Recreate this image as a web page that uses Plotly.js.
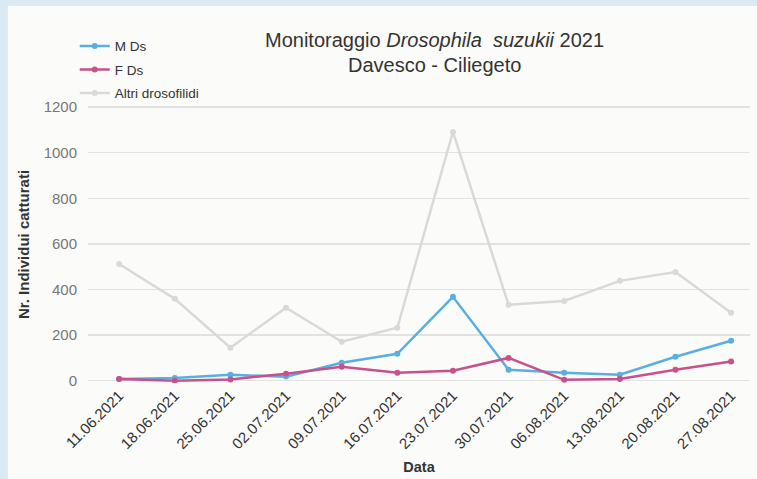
<!DOCTYPE html>
<html>
<head>
<meta charset="utf-8">
<script src="https://cdn.plot.ly/plotly-3.0.1.min.js"></script>
<style>html,body{margin:0;padding:0;background:#dbe9f2;}#chart{width:757px;height:479px;}</style>
</head>
<body>
<div id="chart"></div>
<script>
const dates = ["11.06.2021","18.06.2021","25.06.2021","02.07.2021","09.07.2021","16.07.2021","23.07.2021","30.07.2021","06.08.2021","13.08.2021","20.08.2021","27.08.2021"];
const mDs = [8, 12, 26, 18, 79, 118, 368, 48, 35, 26, 105, 175];
const fDs = [8, 0, 5, 31, 61, 35, 44, 100, 4, 8, 48, 84];
const altri = [512, 359, 145, 320, 171, 232, 1091, 333, 350, 438, 477, 298];
const yTicks = [0, 200, 400, 600, 800, 1000, 1200];
const titleLines = ["Monitoraggio <i>Drosophila  suzukii</i> 2021", "Davesco - Ciliegeto"];

const font = "Liberation Sans, Arial, sans-serif";
function tr(name, y, color, grp){
  return {x: dates, y: y, name: name, type: "scatter", mode: "lines+markers", legendgroup: grp,
    line: {color: color, width: 2.5}, marker: {color: color, size: 6}};
}
const data = [
  tr("M Ds", mDs, "#5aafe0", "a"),
  tr("F Ds", fDs, "#c9518a", "b"),
  tr("Altri drosofilidi", altri, "#d9d9d9", "c")
];
const layout = {
  width: 757, height: 479,
  margin: {l: 88, r: 7, t: 106, b: 96},
  paper_bgcolor: "#dbe9f2",
  plot_bgcolor: "rgba(0,0,0,0)",
  font: {family: font, color: "#333"},
  shapes: [{type: "rect", xref: "paper", yref: "paper", x0: -0.121, x1: 1.1, y0: -0.5, y1: 1.361,
    fillcolor: "#fbfbf9", line: {width: 0}, layer: "below"}],
  annotations: [
    {text: titleLines[0], xref: "paper", yref: "paper", x: 0.524, y: 1.240, xanchor: "center", yanchor: "middle",
     showarrow: false, font: {family: font, size: 20, color: "#333"}},
    {text: titleLines[1], xref: "paper", yref: "paper", x: 0.524, y: 1.147, xanchor: "center", yanchor: "middle",
     showarrow: false, font: {family: font, size: 20, color: "#333"}}
  ],
  showlegend: true,
  legend: {x: -0.02, xanchor: "left", y: 1.272, yanchor: "top", bgcolor: "rgba(0,0,0,0)",
    font: {family: font, size: 13.5, color: "#333"}, tracegroupgap: 3},
  xaxis: {type: "category", range: [-0.56, 11.34], showgrid: false, zeroline: false,
    showline: false, ticks: "", tickangle: -45,
    tickfont: {family: font, size: 15, color: "#333"},
    title: {text: "<b>Data</b>", font: {family: font, size: 14.5, color: "#333"}, standoff: 10}},
  yaxis: {range: [-10, 1205], tickvals: yTicks, showgrid: true, gridcolor: "#e2e2e2", gridwidth: 1.3,
    zeroline: false, showline: false, ticks: "", ticklabelstandoff: 10,
    tickfont: {family: font, size: 15, color: "#777"},
    title: {text: "<b>Nr. Individui catturati</b>", font: {family: font, size: 15, color: "#333"}, standoff: 10}}
};
Plotly.newPlot("chart", data, layout, {displayModeBar: false, staticPlot: true});
</script>
</body>
</html>
